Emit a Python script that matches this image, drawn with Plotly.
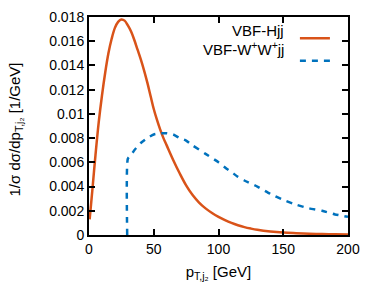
import plotly.graph_objects as go

# VBF-Hjj
h_x = [0.5, 2.5, 5, 7.5, 10, 12.5, 15, 17.5, 20, 22.5, 25, 27.5, 30, 32.5, 35, 37.5, 40, 42.5, 45, 47.5,
       50, 52.5, 55, 57.5, 60, 65, 70, 75, 80, 85, 90, 95, 100, 105, 110, 115, 120, 125, 130, 140, 150,
       160, 170, 180, 190, 200]
h_y = [0.0013, 0.0036, 0.0066, 0.0093, 0.0115, 0.0134, 0.0150, 0.0162, 0.0171, 0.0176, 0.0178, 0.0177,
       0.0173, 0.0168, 0.0161, 0.0153, 0.0145, 0.0136, 0.0126, 0.0115, 0.0104, 0.0095, 0.0087, 0.0080,
       0.0074, 0.0062, 0.0051, 0.0041, 0.0033, 0.00268, 0.0022, 0.00182, 0.0015, 0.00123, 0.001,
       0.00081, 0.00065, 0.00053, 0.00043, 0.00029, 0.0002, 0.00015, 0.00011, 0.00008, 0.00006, 0.00005]

# VBF-W+W+jj
w_x = [29.5, 30, 32.5, 35, 40, 45, 50, 55, 60, 65, 70, 75, 80, 90, 100, 106, 110, 115, 120, 130, 140,
       150, 160, 170, 180, 190, 200]
w_y = [0.0, 0.0063, 0.0066, 0.0070, 0.0076, 0.0080, 0.0083, 0.0084, 0.0084, 0.0083, 0.0080, 0.0078,
       0.0074, 0.0067, 0.0060, 0.0055, 0.0052, 0.0048, 0.0045, 0.0040, 0.0034, 0.0029, 0.0025, 0.0022,
       0.0020, 0.0017, 0.0015]

y_ticks = [0, 0.002, 0.004, 0.006, 0.008, 0.01, 0.012, 0.014, 0.016, 0.018]
y_tick_labels = ["0", "0.002", "0.004", "0.006", "0.008", "0.01", "0.012", "0.014", "0.016", "0.018"]
x_ticks = [0, 50, 100, 150, 200]
x_tick_labels = ["0", "50", "100", "150", "200"]

ORANGE = "#D95319"
BLUE = "#0072BD"
FONT = "Arial, Liberation Sans, sans-serif"
FS = 15
TICK_FS = 14

fig = go.Figure()
fig.add_trace(go.Scatter(x=h_x, y=h_y, mode="lines", name=" ",
                         line=dict(color=ORANGE, width=2.5, shape="spline", smoothing=1.0)))
fig.add_trace(go.Scatter(x=w_x, y=w_y, mode="lines", name=" ",
                         line=dict(color=BLUE, width=2.5, dash="6px,6px", shape="spline", smoothing=0.5)))

axis_common = dict(showline=True, linecolor="black", linewidth=2, mirror="ticks",
                   ticks="inside", ticklen=6, tickwidth=1.5, tickcolor="black",
                   showgrid=False, zeroline=False, automargin=False,
                   tickfont=dict(family=FONT, size=TICK_FS, color="black"))

fig.update_xaxes(range=[0, 200], tickvals=x_ticks, ticktext=x_tick_labels,
                 title=dict(text="p<sub>T,j₂</sub> [GeV]", standoff=11,
                            font=dict(family=FONT, size=FS, color="black")),
                 **axis_common)
fig.update_yaxes(range=[0, 0.018], tickvals=y_ticks, ticktext=y_tick_labels, **axis_common)

# y-axis title (rotated text), centred where the reference has it
fig.add_annotation(x=-0.2857, y=0.484, xref="paper", yref="paper", xanchor="center",
                   yanchor="middle", textangle=-90, showarrow=False,
                   text="1/σ dσ/dp<sub>T,j₂</sub> [1/GeV]",
                   font=dict(family=FONT, size=FS, color="black"))

fig.add_annotation(x=0.76, y=(235 - 31) / 218, xref="paper", yref="paper", xanchor="right",
                   yanchor="middle", showarrow=False, text="VBF-Hjj",
                   font=dict(family=FONT, size=FS, color="black"))
fig.add_annotation(x=0.76, y=(235 - 48) / 218, xref="paper", yref="paper", xanchor="right",
                   yanchor="middle", showarrow=False, text="VBF-W<sup>+</sup>W<sup>+</sup>jj",
                   font=dict(family=FONT, size=FS, color="black"))

# page body has an 8px default margin, so the figure origin sits at (8, 8)
fig.update_layout(
    width=374, height=299,
    margin=dict(l=81, r=34, t=9, b=72, autoexpand=False),
    paper_bgcolor="white", plot_bgcolor="white",
    showlegend=True,
    legend=dict(x=0.795, y=(235 - 22) / 218, xanchor="left", yanchor="top",
                bgcolor="rgba(0,0,0,0)", font=dict(family=FONT, size=FS),
                tracegroupgap=0, itemwidth=30),
    font=dict(family=FONT, size=FS, color="black"),
)

fig.write_html("out.html")
